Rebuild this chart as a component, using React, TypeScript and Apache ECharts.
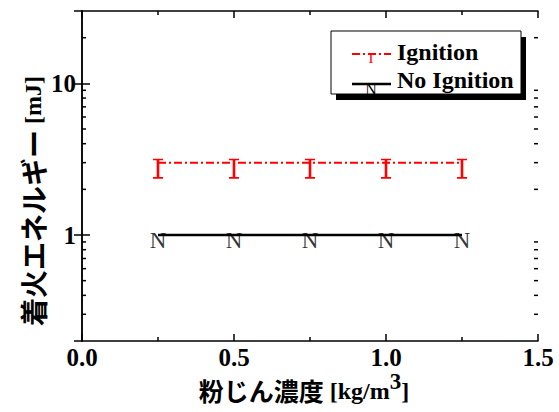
import React, { useEffect, useRef } from "react";
import * as echarts from "echarts";

const concentrations = [0.25, 0.5, 0.75, 1.0, 1.25];
const ignitionEnergy = [3, 3, 3, 3, 3];
const noIgnitionEnergy = [1, 1, 1, 1, 1];
const yMinorTicks = [0.3, 0.4, 0.5, 0.6, 0.7, 0.8, 0.9, 2, 3, 4, 5, 6, 7, 8, 9, 20];
const legendNames = ["Ignition", "No Ignition"];
const xTitleCjk = "粉じん濃度";
const xTitleUnit = " [kg/m";
const xTitleSup = "3";
const xTitleEnd = "]";
const yTitleCjk = "着火エネルギー";
const yTitleUnit = " [mJ]";

const SERIF = "'Liberation Serif', 'Times New Roman', serif";
const CJK = "'Noto Sans CJK JP', sans-serif";

function measure(text: string, font: string): number {
  const c = document.createElement("canvas");
  const ctx = c.getContext("2d");
  if (!ctx) return text.length * 12;
  ctx.font = font;
  return ctx.measureText(text).width;
}

export default function App() {
  const ref = useRef<HTMLDivElement>(null);
  useEffect(() => {
    if (!ref.current) return;
    const chart = echarts.init(ref.current, null, { renderer: "svg" });
    const ignData = concentrations.map((x, i) => [x, ignitionEnergy[i]]);
    const noData = concentrations.map((x, i) => [x, noIgnitionEnergy[i]]);
    const axisLine = { show: true, lineStyle: { color: "#000", width: 1.5 } };
    const labelStyle = { fontFamily: SERIF, fontWeight: "bold" as const, fontSize: 25, color: "#000" };

    const fontC = `bold 25px ${CJK}`;
    const fontL = `bold 24px ${SERIF}`;
    const fontS = `bold 23px ${SERIF}`;
    const wC = measure(xTitleCjk, fontC);
    const wL = measure(xTitleUnit, fontL);
    const wS = measure(xTitleSup, fontS);
    const wE = measure(xTitleEnd, fontL);
    const x0 = 304 - (wC + wL + wS + wE) / 2;
    const ty = 390;

    const xCommon = {
      type: "value" as const,
      min: 0,
      max: 1.5,
      interval: 0.5,
      axisLine,
      splitLine: { show: false },
      axisTick: { show: true, inside: true, length: 7, lineStyle: { color: "#000", width: 1.5 } },
      minorTick: { show: true, splitNumber: 2, length: 4, lineStyle: { color: "#000", width: 1.5 } },
    };
    const yCommon = {
      type: "log" as const,
      logBase: 10,
      min: 0.2,
      max: 30,
      axisLine,
      splitLine: { show: false },
      axisTick: { show: true, inside: true, length: 8, lineStyle: { color: "#000", width: 1.5 } },
    };
    const option: any = {
      animation: false,
      grid: { left: 82, top: 11, right: 21, bottom: 71, containLabel: false },
      xAxis: [
        {
          ...xCommon,
          position: "bottom",
          axisLabel: { ...labelStyle, margin: 4, formatter: (v: number) => v.toFixed(1) },
        },
        { ...xCommon, position: "top", axisLabel: { show: false } },
      ],
      yAxis: [
        {
          ...yCommon,
          position: "left",
          axisLabel: { ...labelStyle, margin: 6, showMinLabel: false, showMaxLabel: false },
        },
        { ...yCommon, position: "right", axisLabel: { show: false } },
      ],
      series: [
        {
          name: legendNames[0],
          type: "line",
          data: ignData,
          lineStyle: { color: "#ff0000", width: 2, type: [8, 3, 2, 3] },
          itemStyle: { color: "#ff0000" },
          symbol: "path://M0,0H10V1.6H6.3V18.4H10V20H0V18.4H3.7V1.6H0Z",
          symbolSize: [10, 20],
          symbolOffset: [0, 6],
          showSymbol: true,
          z: 3,
        },
        {
          name: legendNames[1],
          type: "line",
          data: noData,
          lineStyle: { color: "#000", width: 2.5 },
          symbol: "none",
          z: 2,
        },
        {
          type: "scatter",
          data: noData,
          symbol: "circle",
          symbolSize: 1,
          itemStyle: { color: "rgba(0,0,0,0)" },
          label: {
            show: true,
            formatter: "N",
            position: "inside",
            offset: [0, 5],
            fontFamily: SERIF,
            fontSize: 23,
            color: "#000",
          },
          z: 4,
          silent: true,
        },
        {
          type: "custom",
          silent: true,
          clip: false,
          data: yMinorTicks.map((v) => [0, v]),
          renderItem: (params: any, api: any) => {
            const v = api.value(1);
            const pl = api.coord([0, v]);
            const pr = api.coord([1.5, v]);
            const st = { stroke: "#000", lineWidth: 1.5 };
            return {
              type: "group",
              children: [
                { type: "line", shape: { x1: pl[0], y1: pl[1], x2: pl[0] + 4, y2: pl[1] }, style: st },
                { type: "line", shape: { x1: pr[0] - 4, y1: pr[1], x2: pr[0], y2: pr[1] }, style: st },
              ],
            };
          },
        },
      ],
      graphic: [
        { type: "rect", shape: { x: 336, y: 37, width: 190, height: 63 }, style: { fill: "#000" }, z: 10 },
        {
          type: "rect",
          shape: { x: 331, y: 31, width: 190, height: 63 },
          style: { fill: "#fff", stroke: "#000", lineWidth: 1 },
          z: 11,
        },
        {
          type: "line",
          shape: { x1: 352, y1: 54, x2: 391, y2: 54 },
          style: { stroke: "#ff0000", lineWidth: 2, lineDash: [8, 3, 2, 3] },
          z: 12,
        },
        {
          type: "text",
          x: 371,
          y: 58,
          style: { text: "I", fill: "#ff0000", font: `15px ${SERIF}`, align: "center", verticalAlign: "middle" },
          z: 12,
        },
        {
          type: "text",
          x: 397,
          y: 52,
          style: { text: legendNames[0], fill: "#000", font: fontL, align: "left", verticalAlign: "middle" },
          z: 12,
        },
        {
          type: "line",
          shape: { x1: 352, y1: 84, x2: 391, y2: 84 },
          style: { stroke: "#000", lineWidth: 2.5 },
          z: 12,
        },
        {
          type: "text",
          x: 371,
          y: 89,
          style: { text: "N", fill: "#000", font: `16px ${SERIF}`, align: "center", verticalAlign: "middle" },
          z: 12,
        },
        {
          type: "text",
          x: 397,
          y: 80,
          style: { text: legendNames[1], fill: "#000", font: fontL, align: "left", verticalAlign: "middle" },
          z: 12,
        },
        {
          type: "text",
          x: x0,
          y: ty,
          style: { text: xTitleCjk, fill: "#000", font: fontC, align: "left", verticalAlign: "middle" },
        },
        {
          type: "text",
          x: x0 + wC,
          y: ty + 1,
          style: { text: xTitleUnit, fill: "#000", font: fontL, align: "left", verticalAlign: "middle" },
        },
        {
          type: "text",
          x: x0 + wC + wL,
          y: ty - 9,
          style: { text: xTitleSup, fill: "#000", font: fontS, align: "left", verticalAlign: "middle" },
        },
        {
          type: "text",
          x: x0 + wC + wL + wS,
          y: ty + 1,
          style: { text: xTitleEnd, fill: "#000", font: fontL, align: "left", verticalAlign: "middle" },
        },
        {
          type: "text",
          x: 33,
          y: 201,
          rotation: Math.PI / 2,
          style: {
            text: `{c|${yTitleCjk}}{l|${yTitleUnit}}`,
            align: "center",
            verticalAlign: "middle",
            rich: {
              c: { fontFamily: CJK, fontWeight: "bold", fontSize: 28, fill: "#000", color: "#000" },
              l: { fontFamily: SERIF, fontWeight: "bold", fontSize: 24, fill: "#000", color: "#000" },
            },
          },
        },
      ],
    };
    chart.setOption(option);
    return () => chart.dispose();
  }, []);
  return (
    <div
      ref={ref}
      style={{ position: "absolute", left: 0, top: 0, width: 559, height: 412 }}
    />
  );
}
